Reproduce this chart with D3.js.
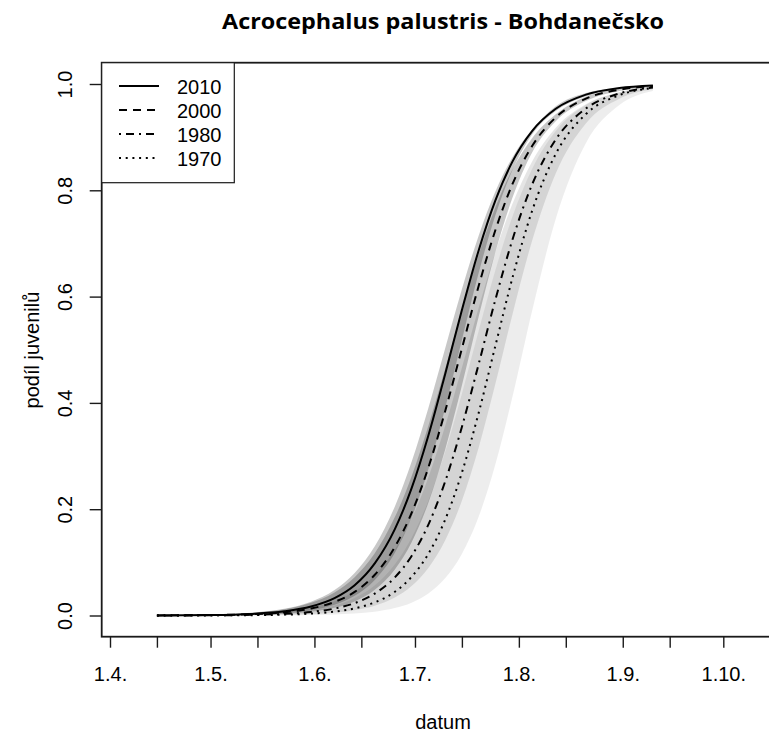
<!DOCTYPE html>
<html><head><meta charset="utf-8">
<script src="https://cdn.jsdelivr.net/npm/d3@7"></script>
<style>
html,body{margin:0;padding:0;background:#fff;}
text{font-family:"Liberation Sans",Arial,sans-serif;fill:#000;}
</style></head>
<body><svg id="c" width="769" height="735"></svg>
<script>
// ---- data ----
const dates = ["04-15","05-01","05-13","05-23","05-31","06-07","06-13","06-19","06-25","06-30",
               "07-05","07-10","07-15","07-20","07-25","07-30","08-05","08-12","08-21","08-31","09-10"];
const years = ["2010","2000","1980","1970"];
const p2010 = [0.0002,0.0009,0.0030,0.0078,0.0168,0.0326,0.0568,0.0980,0.1625,0.2395,0.3386,0.4540,0.5747,0.6868,0.7810,0.8530,0.9120,0.9535,0.9800,0.9923,0.9971];
const hi2010 = [0.0004,0.0017,0.0052,0.0127,0.0259,0.0478,0.0798,0.1301,0.2051,0.2892,0.3906,0.5023,0.6139,0.7146,0.7978,0.8613,0.9147,0.9580,0.9830,0.9935,0.9975];
const lo2010 = [0.0001,0.0004,0.0015,0.0043,0.0098,0.0201,0.0370,0.0669,0.1181,0.1840,0.2750,0.3898,0.5182,0.6443,0.7530,0.8368,0.9055,0.9490,0.9770,0.9910,0.9966];
const p2000 = [0.0002,0.0008,0.0024,0.0061,0.0131,0.0255,0.0444,0.0766,0.1290,0.1930,0.2785,0.3844,0.5024,0.6200,0.7252,0.8104,0.8838,0.9371,0.9726,0.9893,0.9959];
const hi2000 = [0.0004,0.0017,0.0049,0.0118,0.0238,0.0435,0.0722,0.1173,0.1851,0.2620,0.3569,0.4643,0.5753,0.6792,0.7680,0.8380,0.8983,0.9429,0.9760,0.9905,0.9965];
const lo2000 = [0.0001,0.0003,0.0011,0.0031,0.0070,0.0144,0.0265,0.0484,0.0867,0.1379,0.2121,0.3118,0.4327,0.5622,0.6837,0.7844,0.8718,0.9300,0.9680,0.9870,0.9945];
const p1980 = [0.0001,0.0004,0.0012,0.0031,0.0067,0.0131,0.0233,0.0412,0.0718,0.1121,0.1711,0.2520,0.3548,0.4730,0.5944,0.7054,0.8117,0.8954,0.9538,0.9822,0.9932];
const hi1980 = [0.0002,0.0010,0.0029,0.0070,0.0144,0.0268,0.0454,0.0759,0.1240,0.1824,0.2602,0.3564,0.4660,0.5789,0.6841,0.7733,0.8548,0.9175,0.9618,0.9843,0.9952];
const lo1980 = [0.0000,0.0001,0.0004,0.0012,0.0027,0.0055,0.0101,0.0185,0.0339,0.0555,0.0895,0.1413,0.2160,0.3158,0.4359,0.5641,0.7060,0.8317,0.9259,0.9723,0.9899];
const p1970 = [0.0000,0.0002,0.0006,0.0016,0.0036,0.0072,0.0134,0.0246,0.0447,0.0727,0.1160,0.1802,0.2689,0.3812,0.5077,0.6333,0.7622,0.8684,0.9434,0.9790,0.9924];
const hi1970 = [0.0001,0.0006,0.0018,0.0046,0.0098,0.0188,0.0329,0.0568,0.0964,0.1465,0.2166,0.3080,0.4174,0.5357,0.6500,0.7494,0.8411,0.9116,0.9604,0.9844,0.9939];
const lo1970 = [0.0000,0.0000,0.0001,0.0004,0.0009,0.0019,0.0037,0.0072,0.0140,0.0241,0.0413,0.0699,0.1157,0.1857,0.2845,0.4093,0.5744,0.7461,0.8887,0.9604,0.9866];
const majorTicks = ["04-01","05-01","06-01","07-01","08-01","09-01","10-01"];
const minorTicks = ["04-15","05-15","06-15","07-15","08-15","09-15","10-15"];
const yTicks = [0, 0.2, 0.4, 0.6, 0.8, 1.0];
const titleText = "Acrocephalus palustris - Bohdanečsko";
const xTitle = "datum";
const yTitle = "podíl juvenilů";

// ---- build ----
const parse = s => d3.timeParse("%Y-%m-%d")("2001-" + s);
const series = [
  {year:"2010", p:p2010, lo:lo2010, hi:hi2010, dash:null,      fill:"rgba(0,0,0,0.22)"},
  {year:"2000", p:p2000, lo:lo2000, hi:hi2000, dash:"8,6",     fill:"rgba(0,0,0,0.22)"},
  {year:"1980", p:p1980, lo:lo1980, hi:hi1980, dash:"2,5,8,5", fill:"rgba(0,0,0,0.10)"},
  {year:"1970", p:p1970, lo:lo1970, hi:hi1970, dash:"2,4.7",   fill:"rgba(0,0,0,0.07)"}
];
const box = {l:101.7, t:62.7, r:784, b:636.7};
const FS = 20;
const svg = d3.select("#c");
svg.append("rect").attr("width",769).attr("height",735).attr("fill","#fff");

const x = d3.scaleTime().domain([parse("04-01"), parse("10-01")]).range([110, 723.3]);
const y = d3.scaleLinear().domain([0,1]).range([615.5, 84]);
const D = dates.map(parse);

const area = d3.area().x((d,i)=>x(D[i])).y0(d=>y(d[0])).y1(d=>y(d[1])).curve(d3.curveMonotoneX);
const line = d3.line().x((d,i)=>x(D[i])).y(d=>y(d)).curve(d3.curveMonotoneX);

const gB = svg.append("g");
series.slice().reverse().forEach(s=>{
  gB.append("path").datum(s.lo.map((v,i)=>[v,s.hi[i]]))
    .attr("d", area).attr("fill", s.fill).attr("stroke","none");
});
const gL = svg.append("g");
series.forEach(s=>{
  gL.append("path").datum(s.p).attr("d", line).attr("fill","none")
    .attr("stroke","#000").attr("stroke-width",2)
    .attr("stroke-dasharray", s.dash);
});

// frame
svg.append("rect").attr("x",box.l).attr("y",box.t).attr("width",box.r-box.l).attr("height",box.b-box.t)
  .attr("fill","none").attr("stroke","#1a1a1a").attr("stroke-width",1.8);

// x axis
const fmt = d3.timeFormat("%-d.%-m.");
const majorSet = new Set(majorTicks);
const allT = majorTicks.concat(minorTicks).map(parse).sort((a,b)=>a-b);
const gx = svg.append("g").attr("transform",`translate(0,${box.b})`)
  .call(d3.axisBottom(x).tickValues(allT).tickSize(11).tickSizeOuter(0)
    .tickFormat(d => majorSet.has(d3.timeFormat("%m-%d")(d)) ? fmt(d) : ""));
gx.select(".domain").remove();
gx.selectAll(".tick line").attr("stroke","#1a1a1a").attr("stroke-width",1.4);
gx.selectAll(".tick text").attr("y",44).attr("dy",0).attr("font-size",FS)
  .attr("font-family","Liberation Sans, Arial, sans-serif").attr("fill","#000");

// y axis
const gy = svg.append("g").attr("transform",`translate(${box.l},0)`)
  .call(d3.axisLeft(y).tickValues(yTicks).tickSize(12).tickSizeOuter(0).tickFormat(d3.format(".1f")));
gy.select(".domain").remove();
gy.selectAll(".tick line").attr("stroke","#1a1a1a").attr("stroke-width",1.4);
gy.selectAll(".tick text").attr("transform","rotate(-90)").attr("x",0).attr("y",-30).attr("dy",0)
  .attr("text-anchor","middle").attr("font-size",FS)
  .attr("font-family","Liberation Sans, Arial, sans-serif").attr("fill","#000");

// titles
svg.append("text").attr("x",443).attr("y",28.5).attr("text-anchor","middle")
  .attr("font-weight","bold").attr("font-size",22)
  .attr("textLength",442).attr("lengthAdjust","spacingAndGlyphs")
  .style("font-family","'Open Sans', sans-serif").text(titleText);
svg.append("text").attr("x",443).attr("y",729).attr("text-anchor","middle").attr("font-size",FS).text(xTitle);
svg.append("text").attr("transform","translate(39,350) rotate(-90)").attr("text-anchor","middle")
  .attr("font-size",FS).text(yTitle);

// legend
const lg = svg.append("g");
lg.append("rect").attr("x",box.l).attr("y",box.t).attr("width",132.6).attr("height",120)
  .attr("fill","#fff").attr("stroke","#1a1a1a").attr("stroke-width",1.2);
series.forEach((s,i)=>{
  const ry = 86 + i*24;
  lg.append("line").attr("x1",119).attr("x2",159).attr("y1",ry).attr("y2",ry)
    .attr("stroke","#000").attr("stroke-width",2).attr("stroke-dasharray",s.dash);
  lg.append("text").attr("x",177).attr("y",ry+7.5).attr("font-size",FS).text(s.year);
});
</script></body></html>
